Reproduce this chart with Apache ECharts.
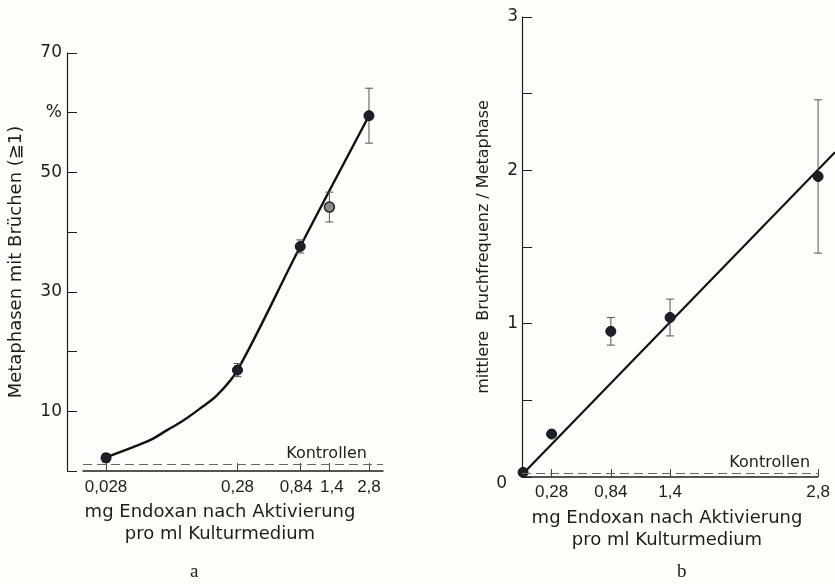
<!DOCTYPE html>
<html><head><meta charset="utf-8">
<script src="https://cdn.jsdelivr.net/npm/echarts@6/dist/echarts.min.js"></script>
<style>html,body{margin:0;padding:0;background:#fdfdfb}#c{width:835px;height:584px}</style>
</head><body><div id="c"></div>
<script>
// Panel a: % metaphases with breaks vs dose (log scale)
const aTicks = [0.028, 0.28, 0.84, 1.4, 2.8];
const aDose = [0.028, 0.28, 0.84, 1.4, 2.8];
const aMean = [2.2, 16.9, 37.6, 44.2, 59.5];
const aErr = [0.7, 1.1, 1.1, 2.5, 4.6];
const aOpen = [false, false, false, true, false];
// fitted curve
const aCurveDose = [0.028, 0.045, 0.061, 0.081, 0.109, 0.146, 0.196, 0.28, 0.84, 2.8];
const aCurveVal = [2.3, 4.0, 5.2, 6.8, 8.5, 10.5, 12.7, 16.9, 37.6, 59.5];
const aControl = 1.1;
const aYLabels = {70: '70', 60: '%', 50: '50', 30: '30', 10: '10'};

// Panel b: mean break frequency per metaphase vs dose (linear)
const bTicks = [0.28, 0.84, 1.4, 2.8];
const bDose = [0.01, 0.28, 0.84, 1.4, 2.8];
const bMean = [0.03, 0.28, 0.95, 1.04, 1.96];
const bErr = [0, 0, 0.09, 0.12, 0.5];
const bControl = 0.022;
const bAxisEnd = 2.8;
// regression line
const bFitX = [0, 2.96];
const bFitY = [0.015, 2.118];
const bYLabels = {3: '3', 2: '2', 1: '1'};

const FONT = 'DejaVu Sans';
const TICKFONT = 'Liberation Sans';
const INK = '#1e1e1e';

function errRender(params, api) {
  const x = api.value(0), lo = api.value(1), hi = api.value(2);
  if (!(hi - lo > 0)) return;
  const p1 = api.coord([x, hi]), p2 = api.coord([x, lo]);
  const w = 4;
  const style = {stroke: '#555', lineWidth: 1};
  return {type: 'group', children: [
    {type: 'line', shape: {x1: p1[0], y1: p1[1], x2: p2[0], y2: p2[1]}, style},
    {type: 'line', shape: {x1: p1[0] - w, y1: p1[1], x2: p1[0] + w, y2: p1[1]}, style},
    {type: 'line', shape: {x1: p2[0] - w, y1: p2[1], x2: p2[0] + w, y2: p2[1]}, style}
  ]};
}
const fmtComma = v => String(v).replace('.', ',');
const fmtA = v => {
  const s = fmtComma(v);
  if (v === 0.84) return '{l|' + s + '}';
  if (v === 1.4) return '{r|' + s + '}';
  return s;
};

const chart = echarts.init(document.getElementById('c'));
chart.setOption({
  backgroundColor: '#fdfdfb',
  animation: false,
  textStyle: {fontFamily: FONT, color: INK},
  grid: [
    {left: 83, top: 53, width: 300, height: 418},
    {left: 522, top: 17, width: 313, height: 460}
  ],
  xAxis: [
    {
      type: 'log', gridIndex: 0, logBase: 10, min: 0.0187, max: 3.58, offset: 2,
      axisLine: {show: true, lineStyle: {color: INK, width: 1.5}},
      axisTick: {show: true, inside: true, length: 8, customValues: aTicks, lineStyle: {color: '#444'}},
      axisLabel: {
        customValues: aTicks, formatter: fmtA, fontSize: 17, color: INK, margin: 6, fontFamily: TICKFONT,
        rich: {
          l: {fontSize: 17, color: INK, fontFamily: TICKFONT, padding: [0, 8, 0, 0]},
          r: {fontSize: 17, color: INK, fontFamily: TICKFONT, padding: [0, 0, 0, 5]}
        }
      },
      minorTick: {show: false}, splitLine: {show: false},
      name: 'mg Endoxan nach Aktivierung\npro ml Kulturmedium',
      nameLocation: 'middle', nameGap: 28,
      nameTextStyle: {fontSize: 18, lineHeight: 22, color: INK, fontFamily: FONT, padding: [0, 26, 0, 0]}
    },
    {
      type: 'value', gridIndex: 1, min: 0, max: 2.96,
      axisLine: {show: false},
      axisTick: {show: true, inside: true, length: 8, customValues: bTicks, lineStyle: {color: '#444'}},
      axisLabel: {customValues: bTicks, formatter: fmtComma, fontSize: 17, color: INK, margin: 7, fontFamily: TICKFONT},
      splitLine: {show: false},
      name: 'mg Endoxan nach Aktivierung\npro ml Kulturmedium',
      nameLocation: 'middle', nameGap: 30,
      nameTextStyle: {fontSize: 18, lineHeight: 22, color: INK, fontFamily: FONT, padding: [0, 23, 0, 0]}
    }
  ],
  yAxis: [
    {
      type: 'value', gridIndex: 0, min: 0, max: 70, interval: 10, offset: 16,
      axisLine: {show: true, lineStyle: {color: INK, width: 1.2}},
      axisTick: {show: true, inside: true, length: 10, lineStyle: {color: INK}},
      axisLabel: {formatter: v => aYLabels[v] || '', fontSize: 17, color: INK, margin: 5, fontFamily: FONT},
      splitLine: {show: false},
      name: 'Metaphasen mit Brüchen (≧1)', nameLocation: 'middle', nameGap: 42, nameRotate: 90,
      nameTextStyle: {fontSize: 18, color: INK, fontFamily: FONT}
    },
    {
      type: 'value', gridIndex: 1, min: 0, max: 3, interval: 0.5,
      axisLine: {show: true, lineStyle: {color: INK, width: 1.2}},
      axisTick: {show: true, inside: true, length: 10, lineStyle: {color: INK}},
      axisLabel: {
        formatter: v => (v === 0 ? '{z|0}' : (bYLabels[v] || '')),
        fontSize: 17, color: INK, margin: 4, fontFamily: FONT,
        rich: {z: {fontSize: 17, color: INK, fontFamily: FONT, padding: [14, 11, 0, 0]}}
      },
      splitLine: {show: false},
      name: 'mittlere  Bruchfrequenz / Metaphase', nameLocation: 'middle', nameGap: 26, nameRotate: 90,
      nameTextStyle: {fontSize: 16, color: INK, fontFamily: FONT}
    }
  ],
  series: [
    {
      type: 'line', xAxisIndex: 0, yAxisIndex: 0, smooth: 0.35,
      data: aCurveDose.map((d, i) => [d, aCurveVal[i]]),
      symbol: 'none', lineStyle: {color: '#111', width: 2.4}, z: 2,
      markLine: {
        silent: true, symbol: 'none',
        lineStyle: {color: '#666', type: [9, 5], width: 1.2},
        label: {show: true, position: 'insideEndTop', formatter: 'Kontrollen', fontSize: 16, color: INK, fontFamily: FONT, distance: [16, 3]},
        data: [{yAxis: aControl}]
      }
    },
    {
      type: 'custom', xAxisIndex: 0, yAxisIndex: 0, renderItem: errRender,
      data: aDose.map((d, i) => [d, aMean[i] - aErr[i], aMean[i] + aErr[i]]), z: 3
    },
    {
      type: 'scatter', xAxisIndex: 0, yAxisIndex: 0,
      data: aDose.map((d, i) => (aOpen[i]
        ? {value: [d, aMean[i]], itemStyle: {color: '#8c8c8c', borderColor: '#222', borderWidth: 1.5}}
        : [d, aMean[i]])),
      symbol: 'circle', symbolSize: 10,
      itemStyle: {color: '#1d1f2a', borderColor: '#111', borderWidth: 1, opacity: 1}, z: 4
    },
    {
      type: 'line', xAxisIndex: 1, yAxisIndex: 1,
      data: bFitX.map((x, i) => [x, bFitY[i]]),
      symbol: 'none', lineStyle: {color: '#111', width: 2.2}, z: 2,
      markLine: {
        silent: true, symbol: 'none',
        data: [
          [{coord: [0, bControl], lineStyle: {color: '#666', type: [9, 5], width: 1.2},
            label: {show: true, position: 'insideEndTop', formatter: 'Kontrollen', fontSize: 16, color: INK, fontFamily: FONT, distance: [8, 3]}},
           {coord: [bAxisEnd, bControl]}],
          [{coord: [0, 0], lineStyle: {color: INK, type: 'solid', width: 1.5}, label: {show: false}},
           {coord: [bAxisEnd, 0]}]
        ]
      }
    },
    {
      type: 'scatter', xAxisIndex: 1, yAxisIndex: 1, clip: false,
      data: bDose.map((d, i) => [d, bMean[i]]),
      symbol: 'circle', symbolSize: 10,
      itemStyle: {color: '#1d1f2a', borderColor: '#111', borderWidth: 1, opacity: 1}, z: 4
    },
    {
      type: 'custom', xAxisIndex: 1, yAxisIndex: 1, renderItem: errRender, clip: false,
      data: bDose.map((d, i) => [d, bMean[i] - bErr[i], bMean[i] + bErr[i]]), z: 3
    }
  ],
  graphic: [
    {type: 'text', left: 190, top: 563, style: {text: 'a', font: '19px "Liberation Serif"', fill: INK}},
    {type: 'text', left: 677, top: 563, style: {text: 'b', font: '19px "Liberation Serif"', fill: INK}}
  ]
});
</script></body></html>
